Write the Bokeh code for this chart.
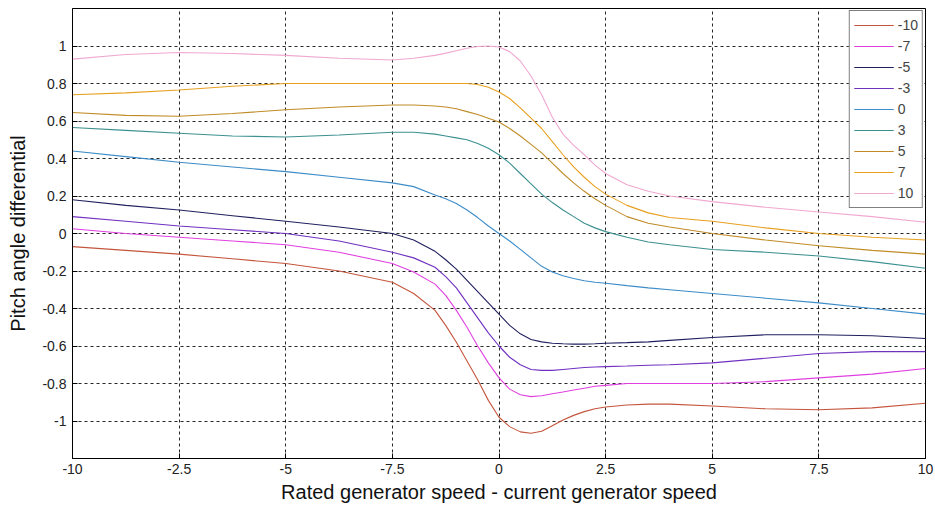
from bokeh.plotting import figure
from bokeh.models import FixedTicker, Legend, LegendItem, Range1d
from bokeh.embed import file_html
from bokeh.resources import INLINE

x = [-10, -8.75, -7.5, -6.25, -5, -3.75, -2.5, -2, -1.5, -1.25, -1, -0.75, -0.5, -0.25,
     0, 0.25, 0.5, 0.75, 1, 1.25, 1.5, 1.75, 2, 2.25, 2.5, 3, 3.5, 4, 5, 6.25, 7.5, 8.75, 10]

s_m10 = [-0.07, -0.09, -0.11, -0.135, -0.16, -0.20, -0.26, -0.32, -0.41, -0.49, -0.58, -0.68, -0.78, -0.89,
         -0.98, -1.03, -1.058, -1.065, -1.055, -1.025, -0.995, -0.97, -0.95, -0.935, -0.925, -0.915, -0.91, -0.91,
         -0.92, -0.935, -0.94, -0.93, -0.905]
s_m7 = [0.025, 0.0, -0.02, -0.04, -0.06, -0.10, -0.16, -0.205, -0.27, -0.33, -0.41, -0.50, -0.60, -0.69,
        -0.77, -0.83, -0.86, -0.87, -0.865, -0.855, -0.845, -0.835, -0.825, -0.815, -0.81, -0.80, -0.80, -0.80,
        -0.80, -0.79, -0.77, -0.75, -0.72]
s_m5 = [0.18, 0.15, 0.125, 0.095, 0.065, 0.035, 0.0, -0.035, -0.095, -0.14, -0.19, -0.25, -0.31, -0.37,
        -0.43, -0.49, -0.535, -0.565, -0.578, -0.585, -0.588, -0.59, -0.59, -0.588, -0.585, -0.582, -0.578, -0.57,
        -0.555, -0.54, -0.54, -0.545, -0.56]
s_m3 = [0.09, 0.065, 0.04, 0.02, 0.0, -0.04, -0.10, -0.13, -0.18, -0.23, -0.29, -0.37, -0.45, -0.53,
        -0.60, -0.66, -0.70, -0.725, -0.73, -0.73, -0.725, -0.72, -0.715, -0.712, -0.71, -0.707, -0.703, -0.70,
        -0.69, -0.665, -0.64, -0.63, -0.63]
s_0 = [0.44, 0.41, 0.38, 0.355, 0.33, 0.30, 0.27, 0.25, 0.205, 0.185, 0.16, 0.125, 0.085, 0.04,
       0.0, -0.04, -0.085, -0.13, -0.175, -0.205, -0.225, -0.24, -0.252, -0.26, -0.265, -0.278, -0.29, -0.30,
       -0.32, -0.345, -0.37, -0.40, -0.43]
s_3 = [0.565, 0.55, 0.535, 0.52, 0.515, 0.525, 0.54, 0.54, 0.53, 0.52, 0.51, 0.50, 0.48, 0.455,
       0.42, 0.375, 0.32, 0.265, 0.21, 0.165, 0.125, 0.09, 0.055, 0.03, 0.01, -0.02, -0.045, -0.06,
       -0.085, -0.10, -0.12, -0.15, -0.185]
s_5 = [0.645, 0.63, 0.625, 0.64, 0.66, 0.675, 0.685, 0.685, 0.68, 0.675, 0.665, 0.65, 0.635, 0.615,
       0.595, 0.56, 0.52, 0.475, 0.43, 0.375, 0.32, 0.27, 0.225, 0.185, 0.15, 0.09, 0.055, 0.035,
       0.0, -0.035, -0.065, -0.09, -0.11]
s_7 = [0.74, 0.75, 0.765, 0.785, 0.80, 0.80, 0.80, 0.80, 0.80, 0.80, 0.80, 0.80, 0.795, 0.78,
       0.755, 0.72, 0.67, 0.615, 0.56, 0.49, 0.42, 0.355, 0.30, 0.25, 0.21, 0.15, 0.11, 0.085,
       0.065, 0.03, 0.0, -0.02, -0.035]
s_10 = [0.93, 0.955, 0.965, 0.96, 0.95, 0.935, 0.925, 0.935, 0.95, 0.962, 0.975, 0.988, 0.997, 1.0,
        0.995, 0.97, 0.92, 0.84, 0.74, 0.62, 0.53, 0.47, 0.42, 0.365, 0.32, 0.26, 0.225, 0.20,
        0.17, 0.14, 0.115, 0.09, 0.06]

series_names = ["-10", "-7", "-5", "-3", "0", "3", "5", "7", "10"]
series_vals = [s_m10, s_m7, s_m5, s_m3, s_0, s_3, s_5, s_7, s_10]
colors = ["#c4553c", "#e040e0", "#202060", "#7030c0", "#3c8cc8", "#3c9090", "#c08c28", "#e8a020", "#f0a8d0"]

x_ticks = [-10, -7.5, -5, -2.5, 0, 2.5, 5, 7.5, 10]
x_tick_labels = ["-10", "-2.5", "-5", "-7.5", "0", "2.5", "5", "7.5", "10"]
y_ticks = [-1, -0.8, -0.6, -0.4, -0.2, 0, 0.2, 0.4, 0.6, 0.8, 1]
y_tick_labels = ["-1", "-0.8", "-0.6", "-0.4", "-0.2", "0", "0.2", "0.4", "0.6", "0.8", "1"]

FONT = "Liberation Sans"

p = figure(width=935, height=508, output_backend="svg", toolbar_location=None,
           x_range=Range1d(-10, 10), y_range=Range1d(-1.2, 1.2),
           min_border_left=72, min_border_right=10, min_border_top=8, min_border_bottom=50)
p.background_fill_color = "white"
p.border_fill_color = "white"
p.outline_line_color = "black"
p.outline_line_width = 1

items = []
for name, vals, c in zip(series_names, series_vals, colors):
    r = p.line(x, vals, line_color=c, line_width=1.1)
    items.append(LegendItem(label=name, renderers=[r]))

p.xaxis.ticker = FixedTicker(ticks=x_ticks)
p.xaxis.major_label_overrides = {t: l for t, l in zip(x_ticks, x_tick_labels)}
p.yaxis.ticker = FixedTicker(ticks=y_ticks)
p.yaxis.major_label_overrides = {t: l for t, l in zip(y_ticks, y_tick_labels)}

for ax in (p.xaxis[0], p.yaxis[0]):
    ax.major_tick_in = 5
    ax.major_tick_out = 0
    ax.minor_tick_line_color = None
    ax.axis_line_color = "black"
    ax.major_tick_line_color = "black"
    ax.major_label_text_font = FONT
    ax.major_label_text_font_size = "14px"
    ax.major_label_text_color = "#222222"
    ax.axis_label_text_font = FONT
    ax.axis_label_text_font_size = "20px"
    ax.axis_label_text_font_style = "normal"
    ax.axis_label_text_color = "#111111"

p.xaxis.axis_label = "Rated generator speed - current generator speed"
p.yaxis.axis_label = "Pitch angle differential"
p.xaxis.major_label_standoff = 5
p.xaxis.axis_label_standoff = 4
p.yaxis.major_label_standoff = 6
p.yaxis.axis_label_standoff = 10

for g in (p.xgrid[0], p.ygrid[0]):
    g.grid_line_color = "black"
    g.grid_line_dash = "3 3"
    g.grid_line_alpha = 0.85
    g.grid_line_width = 1

legend = Legend(items=items, location="top_right", margin=2, padding=4, spacing=1,
                glyph_width=40, glyph_height=20, label_height=20,
                label_text_font=FONT, label_text_font_size="14px", label_standoff=4,
                border_line_color="black", border_line_width=1,
                background_fill_color="white", background_fill_alpha=1)
p.add_layout(legend)

open("out.html", "w").write(file_html(p, INLINE))
